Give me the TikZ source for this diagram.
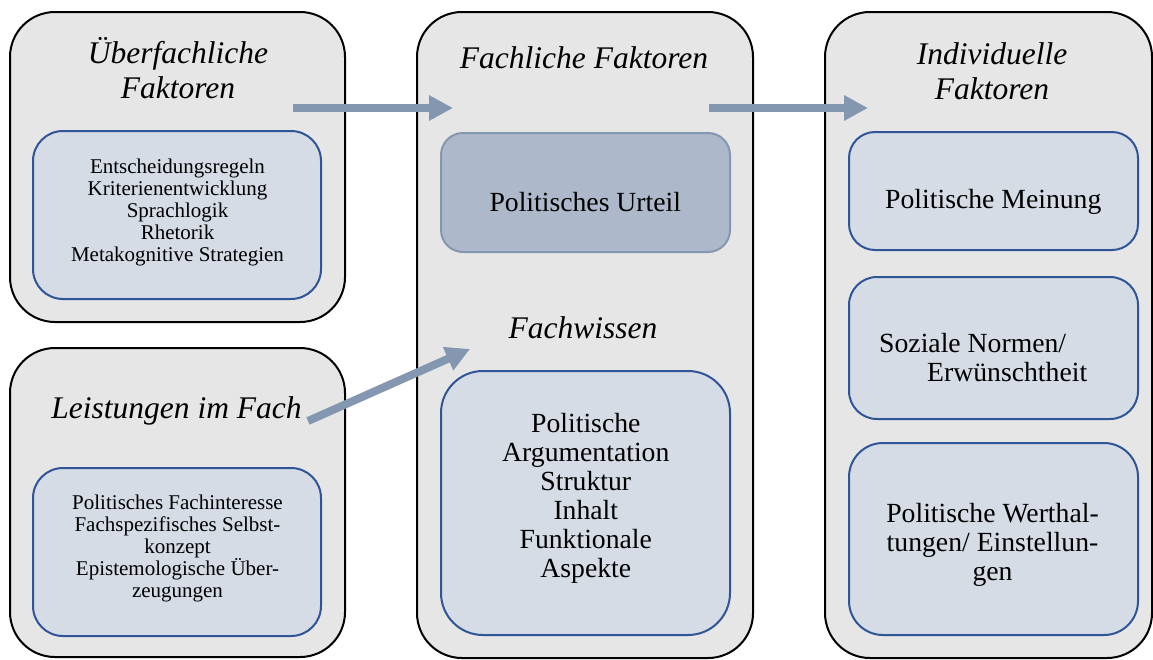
\documentclass[tikz,border=0pt]{standalone}
\usepackage{fontspec}
\setmainfont{Liberation Serif}
\usetikzlibrary{arrows.meta}
\definecolor{outerfill}{HTML}{E7E6E6}
\definecolor{innerfill}{HTML}{D6DCE5}
\definecolor{innerline}{HTML}{2F5597}
\definecolor{urteilfill}{HTML}{ADB9CA}
\definecolor{urteilline}{HTML}{8497B0}
\definecolor{arrowcol}{HTML}{8497B0}
\begin{document}
\begin{tikzpicture}[x=1pt,y=-1pt,
  outerbox/.style={draw=black, line width=2pt, fill=outerfill, rounded corners=45pt, inner sep=0pt, outer sep=0pt},
  innerbox/.style={draw=innerline, line width=2pt, fill=innerfill, inner sep=0pt, outer sep=0pt},
  urteilbox/.style={draw=urteilline, line width=2pt, fill=urteilfill, inner sep=0pt, outer sep=0pt, rounded corners=22pt},
  titletext/.style={font=\fontsize{31.5}{35}\selectfont\itshape, align=center, anchor=base, inner sep=0pt},
  smalltext/.style={font=\fontsize{21}{21.8}\selectfont, align=center, anchor=base, inner sep=0pt},
  bigtext/.style={font=\fontsize{27.7}{29}\selectfont, align=center, anchor=base, inner sep=0pt},
  flowarrow/.style={draw=arrowcol, line width=8pt, -{Triangle[width=24pt,length=24pt]}}
]
\useasboundingbox (0,0) rectangle (1153,659);

% outer boxes
\node[outerbox, minimum width=335pt, minimum height=310pt] (o1) at (177.5,167) {};
\node[outerbox, minimum width=335pt, minimum height=309pt] (o2) at (177.5,502.5) {};
\node[outerbox, minimum width=336pt, minimum height=646pt] (o3) at (585,335) {};
\node[outerbox, minimum width=327pt, minimum height=646pt] (o4) at (988.5,335) {};

% inner boxes
\node[innerbox, rounded corners=30pt, minimum width=288pt, minimum height=168pt] (i1) at (177,215) {};
\node[innerbox, rounded corners=30pt, minimum width=288pt, minimum height=168pt] (i2) at (177,552) {};
\node[urteilbox, minimum width=289pt, minimum height=119pt] (i3) at (585.5,192.5) {};
\node[innerbox, rounded corners=42pt, minimum width=289pt, minimum height=264pt] (i4) at (585.5,503) {};
\node[innerbox, rounded corners=26pt, minimum width=289pt, minimum height=118pt] (i5) at (993.5,191) {};
\node[innerbox, rounded corners=28pt, minimum width=289pt, minimum height=142pt] (i6) at (993.5,348) {};
\node[innerbox, rounded corners=34pt, minimum width=289pt, minimum height=192pt] (i7) at (993.5,539) {};

% titles (base anchor = baseline of last line)
\node[titletext] (t1) at (178,98) {Überfachliche\\Faktoren};
\node[titletext] (t2) at (176.5,418) {Leistungen im Fach};
\node[titletext] (t3) at (584,68) {Fachliche Faktoren};
\node[titletext] (t5) at (583,338) {Fachwissen};
\node[titletext] (t4) at (992,99) {Individuelle\\Faktoren};

% inner texts
\node[smalltext] (x1) at (177.5,261) {Entscheidungsregeln\\Kriterienentwicklung\\Sprachlogik\\Rhetorik\\Metakognitive Strategien};
\node[smalltext] (x2) at (177.5,597) {Politisches Fachinteresse\\Fachspezifisches Selbst-\\konzept\\Epistemologische Über-\\zeugungen};
\node[bigtext] (x3) at (585.3,211) {Politisches Urteil};
\node[bigtext] (x4) at (585.8,577) {Politische\\Argumentation\\Struktur\\Inhalt\\Funktionale\\Aspekte};
\node[bigtext] (x5) at (993.3,208) {Politische Meinung};
\node[bigtext, align=left, anchor=base west] (x6) at (879,381) {Soziale Normen/\\\hspace*{48pt}Erwünschtheit};
\node[bigtext] (x7) at (992.5,580) {Politische Werthal-\\tungen/ Einstellun-\\gen};

% arrows
\coordinate (a1s) at (293,108);
\coordinate (a1e) at (453,108);
\coordinate (a2s) at (709,108);
\coordinate (a2e) at (868,108);
\coordinate (a3s) at (308,421);
\coordinate (a3e) at (470,349);
\draw[flowarrow] (a1s) -- (a1e);
\draw[flowarrow] (a2s) -- (a2e);
\draw[flowarrow] (a3s) -- (a3e);
\end{tikzpicture}
\end{document}
